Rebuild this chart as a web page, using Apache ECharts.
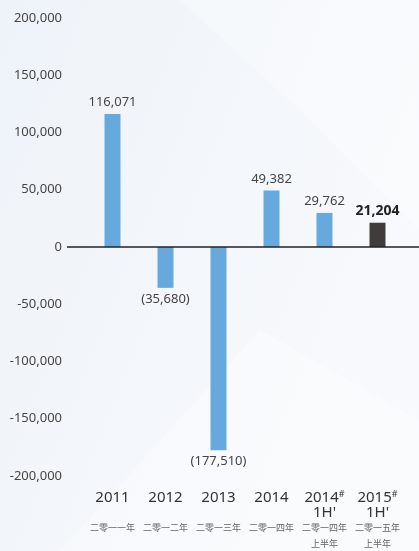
<!DOCTYPE html>
<html>
<head>
<meta charset="utf-8" />
<title>ECharts</title>
<script src="https://cdn.jsdelivr.net/npm/echarts@6/dist/echarts.min.js"></script>
<style>
  html, body { margin: 0; padding: 0; }
  #box { width: 419px; height: 551px; }
</style>
</head>
<body>
<div id="box"></div>
<script>
  // data
  var years = ['2011', '2012', '2013', '2014', '2014', '2015'];
  var marks = ['', '', '', '', '#', '#'];
  var periods = ['', '', '', '', "1H'", "1H'"];
  var yearsCn = ['二零一一年', '二零一二年', '二零一三年', '二零一四年', '二零一四年', '二零一五年'];
  var periodsCn = ['', '', '', '', '上半年', '上半年'];
  var values = [116071, -35680, -177510, 49382, 29762, 21204];
  var highlight = [false, false, false, false, false, true];

  function fmt(v) {
    var s = Math.abs(v).toString().replace(/\B(?=(\d{3})+(?!\d))/g, ',');
    return v < 0 ? '(' + s + ')' : s;
  }

  var chart = echarts.init(document.getElementById('box'));
  var option = {
    backgroundColor: {
      type: 'linear', x: 0, y: 0, x2: 1, y2: 0.3,
      colorStops: [{ offset: 0, color: '#eef3f9' }, { offset: 1, color: '#f7f9fc' }]
    },
    textStyle: { fontFamily: 'Noto Sans' },
    graphic: [
      { type: 'polygon', silent: true, z: -10,
        shape: { points: [[60, 551], [260, 330], [419, 420], [419, 551]] },
        style: { fill: 'rgba(255,255,255,0.3)' } },
      { type: 'polygon', silent: true, z: -10,
        shape: { points: [[180, 0], [419, 0], [419, 230], [300, 110]] },
        style: { fill: 'rgba(255,255,255,0.3)' } }
    ],
    grid: { left: 86, right: 15, top: 18, bottom: 75, outerBoundsMode: 'none', containLabel: false },
    xAxis: {
      type: 'category',
      data: years,
      axisLine: { show: false, onZero: false },
      axisTick: { show: false },
      axisLabel: {
        margin: 14,
        interval: 0,
        lineHeight: 15,
        formatter: function (v, i) {
          return '{y|' + v + '}' + (marks[i] ? '{m|' + marks[i] + '}' : '') +
            '\n{p|' + (periods[i] || ' ') + '}' +
            '\n{c|' + yearsCn[i] + '}' +
            '\n{c|' + (periodsCn[i] || ' ') + '}';
        },
        rich: {
          y: { fontSize: 15, color: '#333', fontFamily: 'Noto Sans', lineHeight: 15 },
          m: { fontSize: 9, color: '#333', verticalAlign: 'top', lineHeight: 15 },
          p: { fontSize: 15, color: '#333', fontFamily: 'Noto Sans', lineHeight: 15 },
          c: { fontSize: 9, color: '#666', fontFamily: 'Noto Sans CJK SC', lineHeight: 16 }
        }
      }
    },
    yAxis: {
      type: 'value',
      min: -200000,
      max: 200000,
      interval: 50000,
      splitLine: { show: false },
      axisLine: { show: false },
      axisTick: { show: false },
      axisLabel: {
        margin: 24,
        fontSize: 13,
        color: '#444',
        formatter: function (v) {
          return v.toString().replace(/\B(?=(\d{3})+(?!\d))/g, ',');
        }
      }
    },
    series: [{
      type: 'bar',
      barWidth: 16,
      data: values.map(function (v, i) {
        return {
          value: v,
          itemStyle: { color: highlight[i] ? '#3f3c3b' : '#67a9dd' },
          label: highlight[i]
            ? { fontWeight: 'bold', fontSize: 14, color: '#222' }
            : {}
        };
      }),
      label: {
        show: true,
        position: 'outside',
        distance: 5,
        fontSize: 13,
        color: '#444',
        formatter: function (p) { return fmt(p.value); }
      }
    }]
  };
  chart.setOption(option);

  // zero line runs past the plot on both sides
  var y0 = chart.convertToPixel({ yAxisIndex: 0 }, 0);
  chart.setOption({
    graphic: option.graphic.concat([{
      type: 'line', silent: true, z: 5,
      shape: { x1: 67, y1: y0, x2: 419, y2: y0 },
      style: { stroke: '#222', lineWidth: 1.5 }
    }])
  });
</script>
</body>
</html>
